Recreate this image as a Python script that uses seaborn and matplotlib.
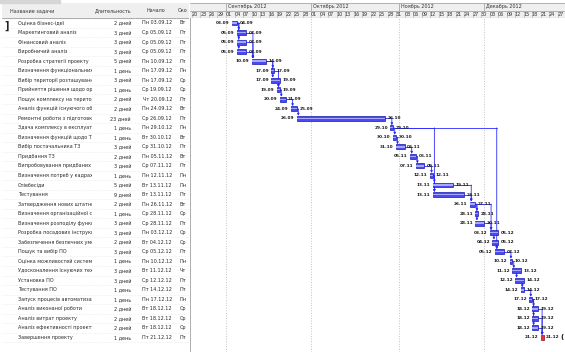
import pandas as pd
import matplotlib
matplotlib.use('Agg')
import matplotlib.pyplot as plt
import matplotlib.dates as mdates
import seaborn as sns

# Данные проекта (названия так, как они видны в узкой колонке)
tasks = ['Оцінка бізнес-ідеї', 'Маркетинговий аналіз', 'Фінансовий аналіз', 'Виробничий аналіз',
         'Розробка стратегії проекту', 'Визначення функціональних з', 'Вибір території розташуванн',
         'Прийняття рішення щодо оре', 'Пошук комплексу на територі', 'Аналіз функцій існуючого обл',
         'Ремонтні роботи з підготовки', 'Здача комплексу в експлуатаці', 'Визначення функцій щодо ТЗ',
         'Вибір постачальника ТЗ', 'Придбання ТЗ', 'Випробовування придбаних Т', 'Визначення потреб у кадрах',
         'Співбесіди', 'Тестування', 'Затвердження нових штатни', 'Визначення організаційної стр',
         'Визначення розподілу функц', 'Розробка посадових інструкці', 'Забезпечення безпечних умо',
         'Пошук та вибір ПО', 'Оцінка можливостей системи', 'Удосконалення існуючих техн',
         'Установка ПО', 'Тестування ПО', 'Запуск процесів автоматизац', 'Аналіз виконаної роботи',
         'Аналіз витрат проекту', 'Аналіз ефективності проекту', 'Завершення проекту']
durations = [2, 3, 3, 3, 5, 1, 3, 1, 2, 2, 23, 1, 1, 3, 2, 3, 1, 5, 9, 2, 1, 3, 3, 2, 3, 1, 3, 3, 1, 1, 2, 2, 2, 1]
start_days = ['03.09', '05.09', '05.09', '05.09', '10.09', '17.09', '17.09', '19.09', '20.09', '24.09',
              '26.09', '29.10', '30.10', '31.10', '05.11', '07.11', '12.11', '13.11', '13.11', '26.11',
              '28.11', '28.11', '03.12', '04.12', '05.12', '10.12', '11.12', '12.12', '14.12', '17.12',
              '18.12', '18.12', '18.12', '21.12']
finish_days = ['04.09', '07.09', '07.09', '07.09', '14.09', '17.09', '19.09', '19.09', '21.09', '25.09',
               '26.10', '29.10', '30.10', '02.11', '06.11', '09.11', '12.11', '19.11', '23.11', '27.11',
               '28.11', '30.11', '05.12', '05.12', '07.12', '10.12', '13.12', '14.12', '14.12', '17.12',
               '19.12', '19.12', '19.12', '21.12']
# связи (предшественник, последователь), номера строк
links = [(1, 2), (1, 3), (1, 4), (2, 5), (3, 5), (4, 5), (5, 6), (5, 7), (6, 8), (7, 8), (8, 9),
         (9, 10), (10, 11), (11, 12), (12, 13), (12, 19), (12, 25), (13, 14), (14, 15), (15, 16),
         (16, 17), (17, 18), (17, 19), (18, 20), (19, 20), (20, 21), (20, 22), (20, 23), (22, 23),
         (23, 24), (24, 25), (25, 26), (26, 27), (27, 28), (28, 29), (29, 30), (30, 31), (30, 32),
         (30, 33), (31, 34), (32, 34), (33, 34)]
months = ['Сентябрь 2012', 'Октябрь 2012', 'Ноябрь 2012', 'Декабрь 2012']
month_starts = ['2012-09-01', '2012-10-01', '2012-11-01', '2012-12-01']
weekdays = ['Пн', 'Вт', 'Ср', 'Чт', 'Пт', 'Сб', 'Вс']
columns = ['Название задачи', 'Длительность', 'Начало', 'Око']

starts = pd.to_datetime([d + '.2012' for d in start_days], format='%d.%m.%Y')
finishes = pd.to_datetime([d + '.2012' for d in finish_days], format='%d.%m.%Y')
s_num = mdates.date2num(starts)
f_num = mdates.date2num(finishes) + 1

sns.set_theme(style='white')
plt.rcParams['font.family'] = ['Liberation Sans Narrow', 'DejaVu Sans']

W, H = 565, 352
fig = plt.figure(figsize=(W / 100, H / 100), dpi=100)
fig.patch.set_facecolor('white')

ROW0, ROWH = 23, 9.53


def px_axes(x0, y0, x1, y1):
    ax = fig.add_axes([x0 / W, 1 - y1 / H, (x1 - x0) / W, (y1 - y0) / H])
    ax.set_facecolor('white')
    for s in ax.spines.values():
        s.set_visible(False)
    ax.set_xticks([])
    ax.set_yticks([])
    return ax


def rows_lim(ax, y0, y1):
    ax.set_ylim((y1 - ROW0) / ROWH, (y0 - ROW0) / ROWH)


n = len(tasks)
rows = list(range(n))
grid_c = '#c8c8c8'
hdr_c = '#efefef'
txt_c = '#2a2a2a'
fs_tab = 3.5

# ---- таблица ----
col_px = [(2, 92), (92, 135), (135, 176), (176, 189)]
cells = [
    tasks,
    [f'{d} день' if d == 1 else f'{d} дней' for d in durations],
    [f'{weekdays[d.weekday()]} {d:%d.%m.%y}' for d in starts],
    [weekdays[d.weekday()] for d in finishes],
]
for ci, ((x0, x1), title, vals) in enumerate(zip(col_px, columns, cells)):
    ax = px_axes(x0, 3, x1, 352)
    ax.set_xlim(0, x1 - x0)
    rows_lim(ax, 3, 352)
    top = (3 - ROW0) / ROWH
    hb = (18 - ROW0) / ROWH
    ax.axhspan(top, hb, color=hdr_c, zorder=0)
    ax.axhline(hb, color='#a0a0a0', lw=0.6)
    ax.axvline(x1 - x0 - 0.3, color=grid_c, lw=0.6)
    for r in rows:
        ax.axhline(r + 0.5, color='#dcdcdc', lw=0.4, ls=':')
    if ci == 0:
        ax.text(8, (top + hb) / 2, title, fontsize=fs_tab, va='center', ha='left', color='#333333', clip_on=True)
        for r, t in zip(rows, vals):
            ax.text(16, r, t, fontsize=fs_tab, va='center', ha='left', color=txt_c, clip_on=True)
        ax.text(2, 0.35, ']', fontsize=7, va='center', ha='left', color='#222222', fontweight='bold')
    elif ci in (1, 2):
        ax.text((x1 - x0) / 2, (top + hb) / 2, title, fontsize=fs_tab, va='center', ha='center',
                color='#333333', clip_on=True)
        for r, t in zip(rows, vals):
            ax.text(x1 - x0 - 4, r, t, fontsize=fs_tab, va='center', ha='right', color=txt_c, clip_on=True)
    else:
        ax.text(2, (top + hb) / 2, title, fontsize=fs_tab, va='center', ha='left', color='#333333', clip_on=True)
        for r, t in zip(rows, vals):
            ax.text(4, r, t, fontsize=fs_tab, va='center', ha='left', color=txt_c, clip_on=True)

# ---- диаграмма Ганта ----
px_day = 2.835
sep1 = mdates.date2num(pd.Timestamp('2012-09-01'))
xlim = (sep1 - (226 - 190) / px_day, sep1 + (565 - 226) / px_day)

gx = px_axes(190, 18, 565, 352)
gx.set_xlim(*xlim)
rows_lim(gx, 18, 352)
gx.axvline(xlim[0], color='#a0a0a0', lw=1.2)
for m in month_starts:
    gx.axvline(mdates.date2num(pd.Timestamp(m)), color='#c0c0c0', lw=0.7, ls=':')

colors = ['#4a4af2'] * (n - 1) + ['#e23a3a']
edges = ['#1a1ab0'] * (n - 1) + ['#a01010']
gx.barh(rows, f_num - s_num, left=s_num, height=0.52, color=colors, edgecolor=edges, lw=0.5, zorder=3)
gx.barh(rows[:-1], (f_num - s_num)[:-1], left=s_num[:-1], height=0.14, color='#a8a8ff', lw=0, zorder=4)

link_c = '#2a2aff'
for p, s in links:
    xe = f_num[p - 1]
    xs = s_num[s - 1] + 0.5
    yp, ys = p - 1, s - 1
    y_from = yp
    if xs > xe:
        gx.plot([xe, xs], [yp, yp], color=link_c, lw=0.6, zorder=2)
    else:
        y_from = yp + 0.26
    gx.annotate('', xy=(xs, ys - 0.27), xytext=(xs, y_from),
                arrowprops=dict(arrowstyle='-|>', color=link_c, lw=0.6, mutation_scale=3,
                                shrinkA=0, shrinkB=0), zorder=2)

for r in rows:
    gx.text(s_num[r] - 0.9, r, start_days[r], fontsize=3.1, fontweight='bold', ha='right',
            va='center', color='#1a1a1a', zorder=5)
    gx.text(f_num[r] + 0.9, r, finish_days[r], fontsize=3.1, fontweight='bold', ha='left',
            va='center', color='#1a1a1a', zorder=5, clip_on=True)
gx.text(xlim[1] - 0.6, n - 1, '(', fontsize=5, fontweight='bold', ha='right', va='center', color='#111111')

# ---- шкала времени ----
hx = px_axes(190, 3, 565, 18)
hx.set_xlim(*xlim)
hx.set_ylim(2, 0)
hx.axhspan(0, 2, color=hdr_c, zorder=0)
hx.axhline(1, color='#a8a8a8', lw=0.6)
hx.axhline(1.96, color='#a0a0a0', lw=0.8)
hx.axhline(0.03, color='#a8a8a8', lw=0.6)
for m, lab in zip(month_starts, months):
    mx = mdates.date2num(pd.Timestamp(m))
    hx.plot([mx, mx], [0, 1], color='#a8a8a8', lw=0.6)
    hx.text(mx + 0.6, 0.52, lab, fontsize=fs_tab, ha='left', va='center', color='#333333', clip_on=True)
for d in pd.date_range('2012-08-20', '2012-12-31', freq='3D'):
    dx = mdates.date2num(d)
    hx.plot([dx, dx], [1, 2], color='#b8b8b8', lw=0.5)
    if dx + 2.0 < xlim[1]:
        hx.text(dx + 1.0, 1.5, d.strftime('%d'), fontsize=fs_tab, ha='center', va='center',
                color='#333333', clip_on=True)

fig.patches.append(plt.Rectangle((0, 1 - 2.5 / H), 60 / W, 2.5 / H, transform=fig.transFigure,
                                 color='#d6d6d6'))

plt.savefig('out.png', dpi=100)
